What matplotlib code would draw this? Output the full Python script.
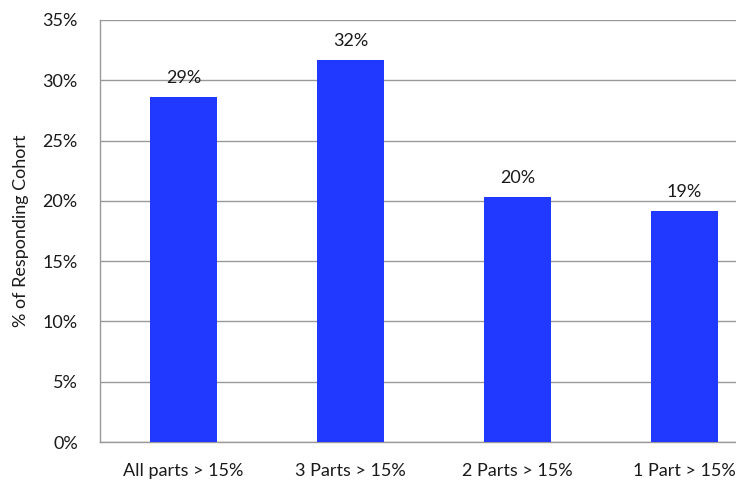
import matplotlib.pyplot as plt
from matplotlib.ticker import MultipleLocator, FuncFormatter

# share of responding cohort per category
categories = ["All parts > 15%", "3 Parts > 15%", "2 Parts > 15%", "1 Part > 15%"]
shares = [28.6, 31.7, 20.3, 19.2]

bar_color = "#2139ff"
grid_color = "#999999"
text_color = "#1a1a1a"

plt.rcParams["font.family"] = ["Lato", "DejaVu Sans"]

fig = plt.figure(figsize=(7.36, 4.86), dpi=100)
# axes runs past the right edge of the figure on purpose
ax = fig.add_axes([100 / 736, 44 / 486, 668 / 736, 422 / 486])

x = range(len(categories))
ax.bar(x, shares, width=0.4, color=bar_color, zorder=3)

for xi, v in zip(x, shares):
    ax.text(xi, v + 0.9, f"{v:.0f}%", ha="center", va="bottom",
            fontsize=13, color=text_color)

ax.set_xlim(-0.5, len(categories) - 0.5)
ax.set_ylim(0, 35)
ax.yaxis.set_major_locator(MultipleLocator(5))
ax.yaxis.set_major_formatter(FuncFormatter(lambda v, _: f"{v:.0f}%"))
ax.set_xticks(list(x))
ax.set_xticklabels(categories)
ax.tick_params(axis="both", length=0, labelsize=13, colors=text_color)
ax.tick_params(axis="x", pad=15)
ax.tick_params(axis="y", pad=16)

ax.grid(axis="y", color=grid_color, linewidth=1, zorder=0)
for side in ["top", "right"]:
    ax.spines[side].set_visible(False)
for side in ["left", "bottom"]:
    ax.spines[side].set_color(grid_color)
    ax.spines[side].set_linewidth(1)

ax.set_ylabel("% of Responding Cohort", fontsize=13, color=text_color, labelpad=10)

fig.savefig("out.png", dpi=100)
